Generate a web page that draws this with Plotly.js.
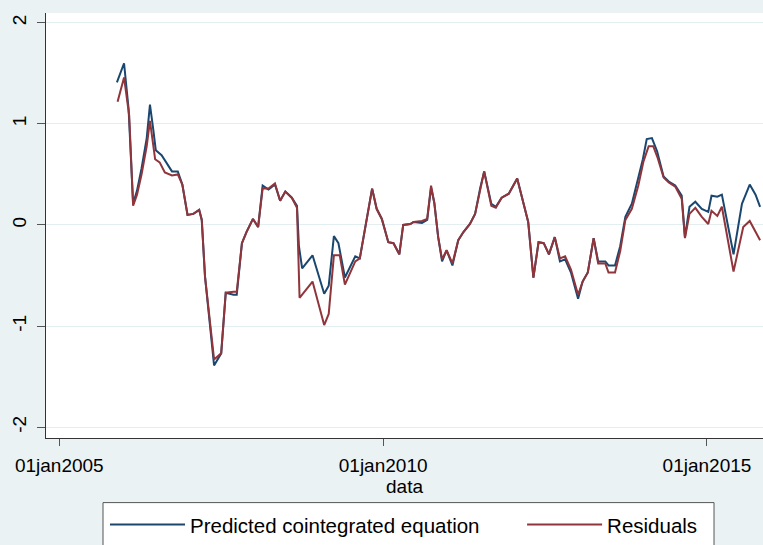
<!DOCTYPE html>
<html>
<head>
<meta charset="utf-8">
<script src="https://cdn.plot.ly/plotly-3.0.1.min.js"></script>
<style>html,body{margin:0;padding:0;background:#eaf2f3;}#chart{width:763px;height:545px;}</style>
</head>
<body>
<div id="chart"></div>
<script>
// Predicted cointegrated equation (decimal years, values)
const predX = [2005.89,2006.00,2006.07,2006.14,2006.20,2006.27,2006.35,2006.40,2006.45,2006.49,2006.58,2006.66,2006.74,2006.83,2006.90,2006.98,2007.07,2007.16,2007.20,2007.25,2007.33,2007.39,2007.50,2007.57,2007.69,2007.74,2007.82,2007.89,2007.99,2008.07,2008.14,2008.23,2008.33,2008.41,2008.49,2008.59,2008.67,2008.70,2008.75,2008.91,2009.09,2009.16,2009.24,2009.31,2009.41,2009.57,2009.64,2009.83,2009.90,2009.98,2010.08,2010.16,2010.25,2010.31,2010.42,2010.47,2010.60,2010.68,2010.74,2010.79,2010.85,2010.91,2010.98,2011.07,2011.16,2011.24,2011.34,2011.42,2011.50,2011.56,2011.67,2011.74,2011.83,2011.94,2012.07,2012.14,2012.24,2012.32,2012.40,2012.48,2012.56,2012.65,2012.73,2012.81,2012.90,2013.01,2013.08,2013.16,2013.25,2013.32,2013.43,2013.48,2013.58,2013.66,2013.74,2013.84,2013.94,2014.01,2014.07,2014.15,2014.23,2014.33,2014.41,2014.51,2014.61,2014.66,2014.73,2014.82,2014.92,2015.02,2015.07,2015.16,2015.23,2015.41,2015.54,2015.66,2015.75,2015.82];
const predY = [1.41,1.60,1.15,0.21,0.34,0.56,0.86,1.19,0.95,0.74,0.69,0.61,0.53,0.53,0.40,0.10,0.11,0.15,0.05,-0.51,-1.02,-1.39,-1.27,-0.67,-0.69,-0.69,-0.18,-0.07,0.06,-0.02,0.39,0.35,0.40,0.24,0.33,0.27,0.19,-0.21,-0.43,-0.30,-0.68,-0.60,-0.11,-0.18,-0.52,-0.31,-0.33,0.36,0.16,0.06,-0.17,-0.18,-0.29,0.00,0.01,0.03,0.02,0.05,0.37,0.22,-0.12,-0.36,-0.25,-0.40,-0.15,-0.07,0.01,0.11,0.37,0.53,0.21,0.18,0.27,0.31,0.46,0.27,0.03,-0.52,-0.17,-0.18,-0.29,-0.12,-0.36,-0.34,-0.47,-0.73,-0.56,-0.47,-0.13,-0.36,-0.36,-0.40,-0.40,-0.21,0.08,0.21,0.47,0.65,0.85,0.86,0.73,0.48,0.43,0.39,0.29,-0.12,0.18,0.23,0.16,0.13,0.29,0.28,0.30,-0.29,0.21,0.40,0.30,0.18];

// Residuals
const residX = [2005.90,2006.00,2006.08,2006.14,2006.20,2006.27,2006.35,2006.40,2006.48,2006.55,2006.63,2006.74,2006.83,2006.90,2006.98,2007.07,2007.16,2007.20,2007.25,2007.33,2007.39,2007.50,2007.57,2007.69,2007.74,2007.82,2007.89,2007.99,2008.07,2008.14,2008.23,2008.33,2008.41,2008.49,2008.59,2008.67,2008.71,2008.91,2009.09,2009.16,2009.24,2009.33,2009.41,2009.57,2009.64,2009.83,2009.90,2009.98,2010.08,2010.16,2010.25,2010.31,2010.42,2010.47,2010.60,2010.68,2010.74,2010.79,2010.85,2010.91,2010.98,2011.07,2011.16,2011.24,2011.34,2011.42,2011.50,2011.56,2011.67,2011.74,2011.83,2011.94,2012.07,2012.14,2012.24,2012.32,2012.40,2012.48,2012.56,2012.65,2012.73,2012.81,2012.90,2013.01,2013.08,2013.16,2013.25,2013.32,2013.43,2013.48,2013.58,2013.66,2013.74,2013.84,2013.94,2014.02,2014.10,2014.17,2014.24,2014.33,2014.41,2014.51,2014.61,2014.66,2014.73,2014.82,2014.92,2015.02,2015.07,2015.16,2015.23,2015.41,2015.56,2015.66,2015.82];
const residY = [1.22,1.46,1.08,0.19,0.30,0.50,0.78,1.03,0.65,0.62,0.52,0.49,0.50,0.40,0.10,0.11,0.15,0.05,-0.51,-1.00,-1.33,-1.27,-0.67,-0.66,-0.66,-0.18,-0.07,0.06,-0.02,0.36,0.36,0.41,0.24,0.33,0.27,0.17,-0.72,-0.56,-0.99,-0.88,-0.30,-0.30,-0.59,-0.36,-0.33,0.36,0.16,0.06,-0.17,-0.18,-0.29,0.00,0.01,0.03,0.04,0.06,0.39,0.22,-0.12,-0.34,-0.25,-0.38,-0.15,-0.07,0.01,0.11,0.37,0.53,0.19,0.17,0.27,0.31,0.46,0.27,0.03,-0.52,-0.17,-0.18,-0.29,-0.12,-0.33,-0.31,-0.44,-0.69,-0.56,-0.47,-0.13,-0.38,-0.38,-0.47,-0.47,-0.26,0.05,0.16,0.39,0.63,0.78,0.78,0.66,0.47,0.42,0.38,0.26,-0.13,0.11,0.17,0.08,0.01,0.14,0.09,0.18,-0.46,-0.02,0.04,-0.15];

const seriesNames = ["Predicted cointegrated equation", "Residuals"];
const xTickVals = [2005, 2010, 2015];
const xTickText = ["01jan2005", "01jan2010", "01jan2015"];
const yTickVals = [-2, -1, 0, 1, 2];
const yTickText = ["-2", "-1", "0", "1", "2"];

const font = {family: "Liberation Sans, Arial, sans-serif", size: 19, color: "#000"};
const legendFont = {family: "Liberation Sans, Arial, sans-serif", size: 20.5, color: "#000"};

const traces = [
  {x: predX, y: predY, type: "scatter", mode: "lines", name: seriesNames[0],
   line: {color: "#1a476f", width: 2}, legend: "legend"},
  {x: residX, y: residY, type: "scatter", mode: "lines", name: seriesNames[1],
   line: {color: "#90353b", width: 2}, legend: "legend2"}
];

const legendCommon = {
  orientation: "h",
  xanchor: "left",
  y: -0.157, yanchor: "top",
  bgcolor: "rgba(0,0,0,0)", borderwidth: 0,
  itemwidth: 75,
  font: legendFont
};

const layout = {
  width: 763, height: 545,
  paper_bgcolor: "#eaf2f3",
  plot_bgcolor: "#ffffff",
  font: font,
  margin: {l: 46, r: 0, t: 13, b: 100},
  showlegend: true,
  xaxis: {
    range: [2004.795, 2015.865],
    tickvals: xTickVals, ticktext: xTickText,
    ticks: "outside", ticklen: 7, tickcolor: "#555", tickwidth: 1,
    ticklabelstandoff: 3,
    showline: true, linecolor: "#333", linewidth: 1,
    showgrid: false, zeroline: false,
    title: {text: "data", font: font, standoff: 3},
    tickfont: font
  },
  yaxis: {
    range: [-2.107, 2.097],
    tickvals: yTickVals, ticktext: yTickText,
    tickangle: -90,
    ticks: "outside", ticklen: 8, tickcolor: "#555", tickwidth: 1,
    ticklabelstandoff: 3,
    showline: true, linecolor: "#333", linewidth: 1,
    showgrid: true, gridcolor: "#e3eef1", gridwidth: 1,
    zeroline: false,
    tickfont: font
  },
  shapes: [{
    type: "rect", xref: "paper", yref: "paper",
    x0: 0.0795, x1: 0.9317, y0: -0.27, y1: -0.152,
    fillcolor: "#ffffff", line: {color: "#555", width: 1}, layer: "below"
  }],
  legend: Object.assign({}, legendCommon, {x: 0.0823}),
  legend2: Object.assign({}, legendCommon, {x: 0.664})
};

Plotly.newPlot("chart", traces, layout, {displayModeBar: false, staticPlot: true});
</script>
</body>
</html>
